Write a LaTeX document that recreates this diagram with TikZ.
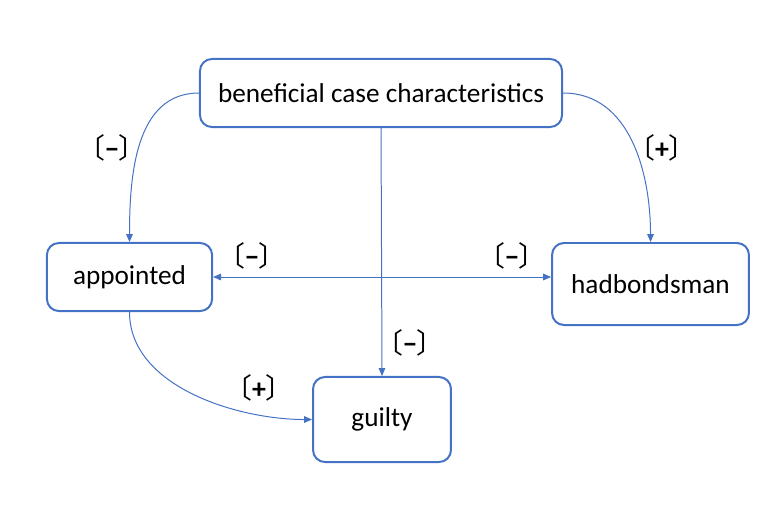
\documentclass[tikz,border=0pt]{standalone}
\usepackage{fontspec}
\setmainfont{Carlito}
\newfontfamily\cjk{Noto Sans CJK SC}
\usepackage{tikz}
\usetikzlibrary{arrows.meta}

\definecolor{boxblue}{HTML}{4472C4}
\newcommand{\minussign}{{\cjk 〔}\textbf{−}{\cjk 〕}}
\newcommand{\plussign}{{\cjk 〔}\textbf{+}{\cjk 〕}}

\begin{document}
\begin{tikzpicture}[scale=0.2646]
                \tikzstyle{every node}+=[font=\fontsize{20.5}{24}\selectfont]
                \tikzstyle{box}=[draw=boxblue, line width=1.5pt, rounded corners=9pt, fill=white, align=center]
                \tikzstyle{link}=[draw=boxblue, line width=0.75pt, -{Triangle[length=6pt,width=5pt]}]
                \tikzstyle{sign}=[font=\fontsize{21}{24}\selectfont, inner sep=0pt]
                \useasboundingbox (0,0) rectangle (78.1,-52.6);
                \node [box, minimum width=9.58cm, minimum height=1.80cm] (benefit) at (38.1,-9.3) {beneficial case characteristics};
                \node [box, minimum width=4.37cm, minimum height=1.80cm] (appointed) at (12.95,-27.7) {appointed};
                \node [box, minimum width=5.21cm, minimum height=2.17cm] (bondsman) at (65.05,-28.4) {hadbondsman};
                \node [box, minimum width=3.65cm, minimum height=2.25cm] (guilty) at (38.2,-41.95) {guilty};
                \draw [link] (benefit.west) to[out=180, in=90] (appointed.north);
                \draw [link] (benefit.east) to[out=0, in=90] (bondsman.north);
                \draw [link] (benefit.south) -- (guilty.north);
                \draw [link, {Triangle[length=6pt,width=5pt]}-{Triangle[length=6pt,width=5pt]}] (appointed.east) -- (appointed.east -| bondsman.west);
                \draw [link] (appointed.south) to[out=-90, in=180, looseness=0.9] (guilty.west);
                \node [sign] (s1) at (11.2,-14.8) {\minussign};
                \node [sign] (s2) at (66.2,-14.8) {\plussign};
                \node [sign] (s3) at (25.2,-25.6) {\minussign};
                \node [sign] (s4) at (51.2,-25.6) {\minussign};
                \node [sign] (s5) at (41.0,-34.3) {\minussign};
                \node [sign] (s6) at (25.9,-38.8) {\plussign};
\end{tikzpicture}
\end{document}
